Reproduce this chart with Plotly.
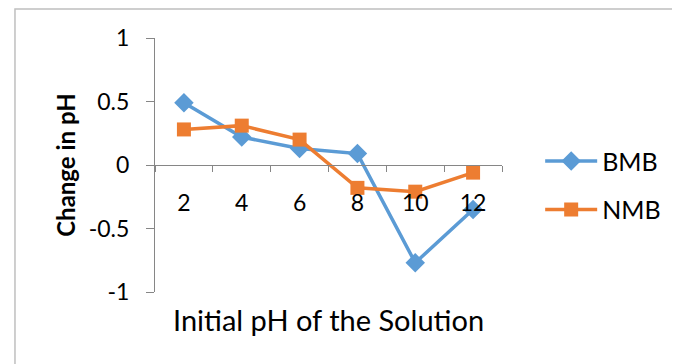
import plotly.graph_objects as go

# initial pH of the solution (category axis)
ph_initial = ["2", "4", "6", "8", "10", "12"]
# change in pH
bmb = [0.49, 0.22, 0.13, 0.09, -0.77, -0.35]
nmb = [0.28, 0.31, 0.20, -0.18, -0.21, -0.06]

font = "Lato, 'Open Sans', sans-serif"
axis_grey = "#868686"

fig = go.Figure()
fig.add_trace(go.Scatter(
    x=ph_initial, y=bmb, name="BMB", mode="lines+markers",
    line=dict(color="#5B9BD5", width=3.5),
    marker=dict(symbol="diamond", size=15, color="#5B9BD5"),
    legendgroup="a",
))
fig.add_trace(go.Scatter(
    x=ph_initial, y=nmb, name="NMB", mode="lines+markers",
    line=dict(color="#ED7D31", width=3.5),
    marker=dict(symbol="square", size=14, color="#ED7D31"),
    legendgroup="b",
))

# page body has an 8px margin, so the figure is 8px smaller than the window
fig.update_layout(
    width=672, height=356, autosize=False,
    margin=dict(l=147, r=178, t=30, b=72),
    paper_bgcolor="white", plot_bgcolor="white",
    font=dict(family=font, size=22, color="black"),
    showlegend=True,
    legend=dict(x=1.11, y=0.605, xanchor="left", yanchor="top",
                font=dict(size=25), tracegroupgap=13,
                itemwidth=52, bgcolor="rgba(0,0,0,0)"),
    xaxis=dict(
        type="category", range=[-0.5, 5.5],
        anchor="free", position=0.5,
        showline=True, linecolor=axis_grey, linewidth=1,
        ticks="outside", tickson="boundaries", ticklen=6, tickcolor=axis_grey,
        ticklabelstandoff=17,
        showgrid=False, zeroline=False,
        tickfont=dict(size=23),
    ),
    yaxis=dict(
        range=[-1, 1], tickvals=[-1, -0.5, 0, 0.5, 1],
        ticktext=["-1", "-0.5", "0", "0.5", "1"],
        showline=True, linecolor=axis_grey, linewidth=1,
        ticks="outside", ticklen=8, tickcolor=axis_grey,
        ticklabelstandoff=12,
        showgrid=False, zeroline=False,
        tickfont=dict(size=23),
    ),
    shapes=[dict(
        type="rect", xref="paper", yref="paper",
        x0=-0.4035, x1=1.7, y0=-0.5, y1=1.114,
        line=dict(color="#BFBFBF", width=1.5), layer="below",
    )],
    annotations=[
        dict(text="Initial pH of the Solution", xref="paper", yref="paper",
             x=0.5, y=-0.11, xanchor="center", yanchor="middle",
             showarrow=False, font=dict(size=29)),
        dict(text="<b>Change in pH</b>", xref="paper", yref="paper",
             x=-0.26, y=0.5, xanchor="center", yanchor="middle",
             textangle=-90, showarrow=False, font=dict(size=24)),
    ],
)

fig.write_html("out.html")
